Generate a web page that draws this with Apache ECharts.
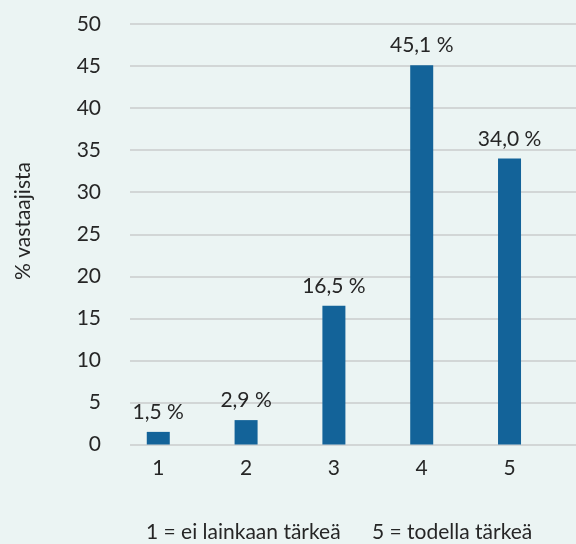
<!DOCTYPE html>
<html>
<head>
<meta charset="utf-8">
<script src="https://cdn.jsdelivr.net/npm/echarts@6/dist/echarts.min.js"></script>
<style>
html,body{margin:0;padding:0;background:#ebf4f3;}
#c{width:576px;height:544px;}
</style>
</head>
<body>
<div id="c"></div>
<script>
var categories = [1, 2, 3, 4, 5];
var values = [1.5, 2.9, 16.5, 45.1, 34.0];
var yTicks = [0, 5, 10, 15, 20, 25, 30, 35, 40, 45, 50];
var yTitle = '% vastaajista';
var legendLeft = '1 = ei lainkaan tärkeä';
var legendRight = '5 = todella tärkeä';

var FONT = 'Lato';
var FS = 21;
var TXT = '#262626';
var chart = echarts.init(document.getElementById('c'), null, {renderer: 'canvas'});
chart.setOption({
  backgroundColor: '#ebf4f3',
  animation: false,
  grid: {left: 130, right: 0, top: 24, bottom: 99.5, containLabel: false},
  xAxis: {
    type: 'value', min: 0.678, max: 5.757,
    axisLine: {show: false}, axisTick: {show: false}, splitLine: {show: false},
    axisLabel: {customValues: categories, margin: 13, fontFamily: FONT, fontSize: FS, color: TXT}
  },
  yAxis: {
    type: 'value', min: 0, max: 50, interval: 5,
    axisLine: {show: false}, axisTick: {show: false},
    splitLine: {lineStyle: {color: '#d2d6d6', width: 2}},
    axisLabel: {margin: 29, fontFamily: FONT, fontSize: FS, color: TXT}
  },
  series: [{
    type: 'bar',
    barWidth: 23,
    itemStyle: {color: '#136399'},
    data: categories.map(function (c, i) { return [c, values[i]]; }),
    label: {
      show: true, position: 'top', distance: 9,
      fontFamily: FONT, fontSize: FS, color: TXT,
      formatter: function (p) { return p.value[1].toFixed(1).replace('.', ',') + '\u00a0%'; }
    }
  }],
  graphic: [
    {type: 'text', x: 23.5, y: 221, rotation: Math.PI / 2,
     style: {text: yTitle, font: FS + 'px Lato', fill: TXT, textAlign: 'center', textVerticalAlign: 'middle'}},
    {type: 'text', x: 146, y: 532,
     style: {text: legendLeft, font: FS + 'px Lato', fill: TXT, textAlign: 'left', textVerticalAlign: 'middle'}},
    {type: 'text', x: 372, y: 532,
     style: {text: legendRight, font: FS + 'px Lato', fill: TXT, textAlign: 'left', textVerticalAlign: 'middle'}}
  ]
});
</script>
</body>
</html>
